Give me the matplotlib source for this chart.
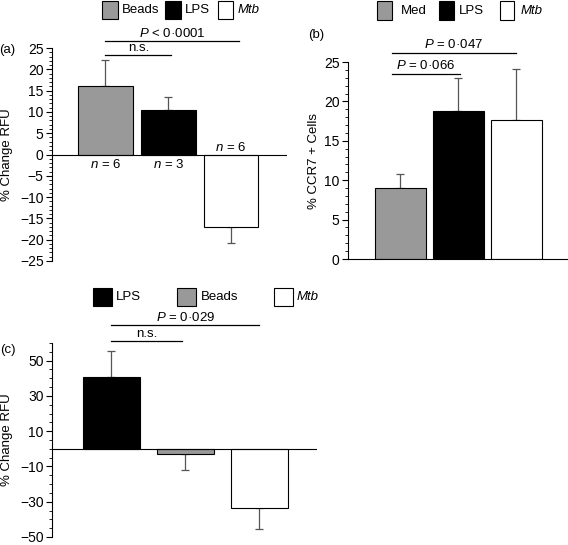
import matplotlib
matplotlib.use('Agg')
import matplotlib.pyplot as plt
from matplotlib.patches import Rectangle
from matplotlib.ticker import MultipleLocator

plt.rcParams['font.family'] = ['Liberation Sans', 'DejaVu Sans']
plt.rcParams['mathtext.fontset'] = 'custom'
plt.rcParams['mathtext.it'] = 'Liberation Sans:italic'
plt.rcParams['mathtext.rm'] = 'Liberation Sans'

# panel (a)
a_labels = ['Beads', 'LPS', 'Mtb']
a_values = [16, 10.5, -17]
a_errors = [6.2, 2.9, 3.8]
a_n = ['$n$ = 6', '$n$ = 3', '$n$ = 6']

# panel (b)
b_labels = ['Med', 'LPS', 'Mtb']
b_values = [9, 18.8, 17.6]
b_errors = [1.8, 4.2, 6.5]

# panel (c)
c_labels = ['LPS', 'Beads', 'Mtb']
c_values = [41, -3, -33.5]
c_errors = [14.6, 9, 11.7]

GREY = '#999999'
colors = {'Beads': GREY, 'Med': GREY, 'LPS': 'black', 'Mtb': 'white'}

W, H = 568, 545
fig = plt.figure(figsize=(W / 100, H / 100), dpi=100)


def box(x0, y0, x1, y1):
    # pixel box -> figure fraction rect
    return [x0 / W, 1 - y1 / H, (x1 - x0) / W, (y1 - y0) / H]


def legend(items):
    for lab, x0, x1, y0, y1, tx in items:
        r = box(x0, y0, x1, y1)
        fig.add_artist(Rectangle((r[0], r[1]), r[2], r[3], transform=fig.transFigure,
                                 facecolor=colors[lab], edgecolor='black', lw=0.8))
        fig.text(tx / W, 1 - (y0 + y1) / 2 / H, lab, fontsize=9.5, va='center', ha='left',
                 fontstyle='italic' if lab == 'Mtb' else 'normal')


def bars(ax, labels, values, errors, width):
    x = range(len(values))
    lo = [e if v < 0 else 0 for v, e in zip(values, errors)]
    hi = [e if v >= 0 else 0 for v, e in zip(values, errors)]
    ax.bar(x, values, width=width, color=[colors[l] for l in labels],
           edgecolor='black', linewidth=0.8, zorder=2)
    ax.errorbar(x, values, yerr=[lo, hi], fmt='none', ecolor='#555555',
                elinewidth=0.9, capsize=3, capthick=0.9, zorder=1)


def style(ax):
    for s in ['top', 'right', 'bottom']:
        ax.spines[s].set_visible(False)
    ax.spines['left'].set_linewidth(0.8)
    ax.set_xticks([])
    ax.tick_params(axis='y', which='major', direction='out', length=4, width=0.8, labelsize=10, pad=2)
    ax.tick_params(axis='y', which='minor', direction='out', length=2, width=0.6)


def sig(ax, x0, x1, y, text, ty):
    ax.plot([x0, x1], [y, y], color='black', lw=0.9, clip_on=False)
    ax.text((x0 + x1) / 2, ty, text, ha='center', va='bottom', fontsize=9.5, clip_on=False)


# ---- (a)
ax = fig.add_axes(box(52, 48, 287, 261))
bars(ax, a_labels, a_values, a_errors, 0.87)
ax.axhline(0, color='black', lw=0.8, zorder=3)
ax.set_xlim(-0.85, 2.89)
ax.set_ylim(-25, 25)
ax.yaxis.set_major_locator(MultipleLocator(5))
ax.yaxis.set_minor_locator(MultipleLocator(1))
style(ax)
ax.set_ylabel('% Change RFU', fontsize=9.5)
ax.yaxis.set_label_coords(-0.166, 0.5)
sig(ax, 0, 2.13, 26.6, '$P$ < 0·0001', 26.9)
sig(ax, 0, 1.05, 23.4, 'n.s.', 23.7)
ax.text(0, -2.4, a_n[0], ha='center', va='center', fontsize=9.5)
ax.text(1, -2.4, a_n[1], ha='center', va='center', fontsize=9.5)
ax.text(2, 1.6, a_n[2], ha='center', va='center', fontsize=9.5)
fig.text(7 / W, 1 - 50 / H, '(a)', fontsize=9.5, ha='center', va='center')
legend([('Beads', 102, 118, 1, 19, 122),
        ('LPS', 165, 181, 1, 19, 185),
        ('Mtb', 218, 233, 1, 19, 238)])

# ---- (b)
ax = fig.add_axes(box(348, 62, 568, 259))
bars(ax, b_labels, b_values, b_errors, 0.88)
ax.set_xlim(-0.905, 2.89)
ax.set_ylim(0, 25)
ax.yaxis.set_major_locator(MultipleLocator(5))
ax.yaxis.set_minor_locator(MultipleLocator(1))
style(ax)
ax.spines['bottom'].set_visible(True)
ax.spines['bottom'].set_linewidth(0.8)
ax.set_ylabel('% CCR7 + Cells', fontsize=9.5)
ax.yaxis.set_label_coords(-0.127, 0.5)
sig(ax, -0.15, 1.99, 26.14, '$P$ = 0·047', 26.4)
sig(ax, -0.15, 1.03, 23.48, '$P$ = 0·066', 23.75)
fig.text(316 / W, 1 - 35 / H, '(b)', fontsize=9.5, ha='center', va='center')
legend([('Med', 377, 392, 1, 20, 401),
        ('LPS', 439, 454, 1, 20, 459),
        ('Mtb', 500, 514, 1, 20, 521)])

# ---- (c)
ax = fig.add_axes(box(52, 343, 317, 537))
bars(ax, c_labels, c_values, c_errors, 0.77)
ax.axhline(0, color='black', lw=0.8, zorder=3)
ax.set_xlim(-0.80, 2.78)
ax.set_ylim(-50, 60)
ax.set_yticks([-50, -30, -10, 10, 30, 50])
ax.yaxis.set_minor_locator(MultipleLocator(5))
style(ax)
ax.set_ylabel('% Change RFU', fontsize=9.5)
ax.yaxis.set_label_coords(-0.147, 0.5)
sig(ax, 0, 2.0, 70.3, '$P$ = 0·029', 70.8)
sig(ax, 0, 0.96, 61.3, 'n.s.', 61.8)
fig.text(8 / W, 1 - 350 / H, '(c)', fontsize=9.5, ha='center', va='center')
legend([('LPS', 93, 112, 288, 306, 116),
        ('Beads', 177, 196, 288, 306, 201),
        ('Mtb', 274, 293, 288, 306, 297)])

fig.savefig('out.png', dpi=100)
